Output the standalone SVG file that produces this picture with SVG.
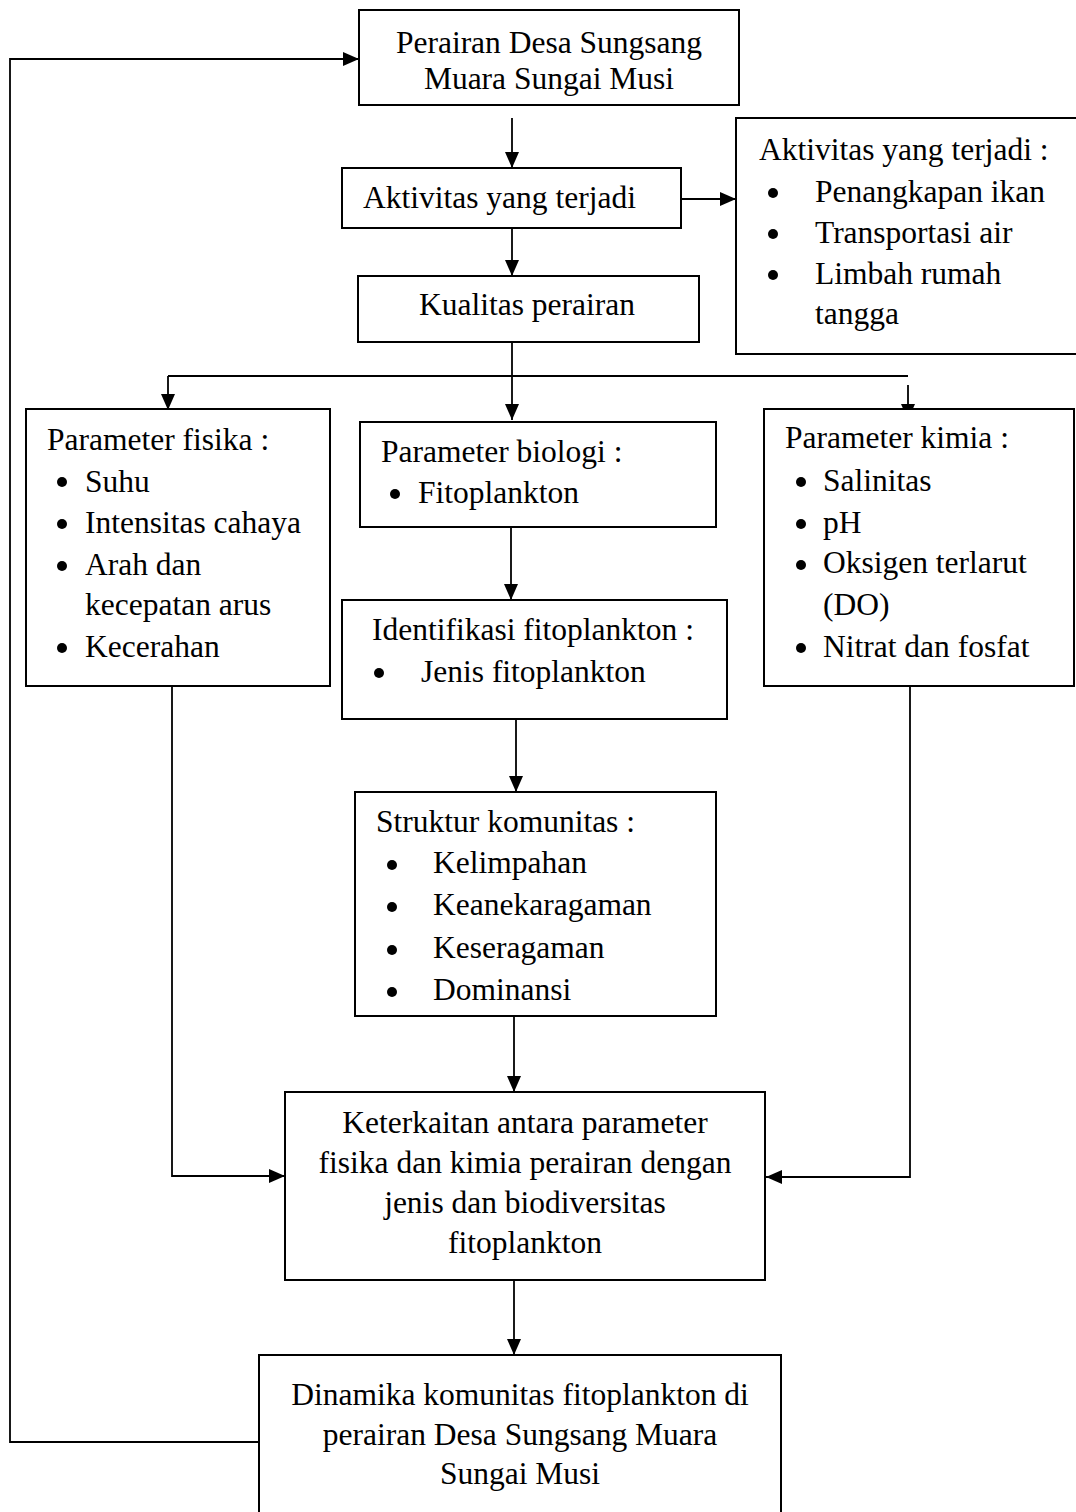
<svg xmlns="http://www.w3.org/2000/svg" width="1076" height="1512" viewBox="0 0 1076 1512">
<style>
.box{fill:#fff;stroke:#000;stroke-width:2}
.t{font-family:"Liberation Serif","Times New Roman",serif;font-size:31.5px;fill:#000}
.c{text-anchor:middle}
.ln{fill:none;stroke:#000;stroke-width:1.8}
.b{fill:#000}
</style>
<defs>
<marker id="ah" viewBox="0 0 16 14" refX="16" refY="7" markerWidth="16" markerHeight="14" markerUnits="userSpaceOnUse" orient="auto">
<path d="M0,0 L16,7 L0,14 z" fill="#000"/>
</marker>
</defs>
<rect width="1076" height="1512" fill="#fff"/>
<g id="connectors">
<path class="ln" d="M259,1442 H10 V59 H359" marker-end="url(#ah)"/>
<path class="ln" d="M512,118 V168" marker-end="url(#ah)"/>
<path class="ln" d="M681,199 H736" marker-end="url(#ah)"/>
<path class="ln" d="M512,228 V276" marker-end="url(#ah)"/>
<path class="ln" d="M512,342 V420" marker-end="url(#ah)"/>
<path class="ln" d="M168,376 H908"/>
<path class="ln" d="M168,376 V410" marker-end="url(#ah)"/>
<path class="ln" d="M908,385 V420" marker-end="url(#ah)"/>
<path class="ln" d="M511,527 V600" marker-end="url(#ah)"/>
<path class="ln" d="M516,719 V792" marker-end="url(#ah)"/>
<path class="ln" d="M514,1016 V1092" marker-end="url(#ah)"/>
<path class="ln" d="M172,679 V1176 H285" marker-end="url(#ah)"/>
<path class="ln" d="M910,677 V1177 H766" marker-end="url(#ah)"/>
<path class="ln" d="M514,1280 V1355" marker-end="url(#ah)"/>
</g>
<g id="n1">
<rect class="box" x="359" y="10" width="380" height="95"/>
<text class="t c" x="549" y="53">Perairan Desa Sungsang</text>
<text class="t c" x="549" y="89">Muara Sungai Musi</text>
</g>
<g id="n2">
<rect class="box" x="342" y="168" width="339" height="60"/>
<text class="t" x="363" y="208">Aktivitas yang terjadi</text>
</g>
<g id="n3">
<rect class="box" x="736" y="118" width="350" height="236"/>
<text class="t" x="759" y="160">Aktivitas yang terjadi :</text>
<circle class="b" cx="773" cy="193" r="5"/>
<text class="t" x="815" y="202">Penangkapan ikan</text>
<circle class="b" cx="773" cy="234" r="5"/>
<text class="t" x="815" y="243">Transportasi air</text>
<circle class="b" cx="773" cy="275" r="5"/>
<text class="t" x="815" y="284">Limbah rumah</text>
<text class="t" x="815" y="324">tangga</text>
</g>
<g id="n4">
<rect class="box" x="358" y="276" width="341" height="66"/>
<text class="t" x="419" y="315">Kualitas perairan</text>
</g>
<g id="n5">
<rect class="box" x="26" y="409" width="304" height="277"/>
<text class="t" x="47" y="450">Parameter fisika :</text>
<circle class="b" cx="62" cy="482" r="5"/>
<text class="t" x="85" y="492">Suhu</text>
<circle class="b" cx="62" cy="524" r="5"/>
<text class="t" x="85" y="533">Intensitas cahaya</text>
<circle class="b" cx="62" cy="566" r="5"/>
<text class="t" x="85" y="575">Arah dan</text>
<text class="t" x="85" y="615">kecepatan arus</text>
<circle class="b" cx="62" cy="648" r="5"/>
<text class="t" x="85" y="657">Kecerahan</text>
</g>
<g id="n6">
<rect class="box" x="360" y="422" width="356" height="105"/>
<text class="t" x="381" y="462">Parameter biologi :</text>
<circle class="b" cx="395" cy="494" r="5"/>
<text class="t" x="418" y="503">Fitoplankton</text>
</g>
<g id="n7">
<rect class="box" x="764" y="409" width="310" height="277"/>
<text class="t" x="785" y="448">Parameter kimia :</text>
<circle class="b" cx="801" cy="482" r="5"/>
<text class="t" x="823" y="491">Salinitas</text>
<circle class="b" cx="801" cy="524" r="5"/>
<text class="t" x="823" y="533">pH</text>
<circle class="b" cx="801" cy="565" r="5"/>
<text class="t" x="823" y="573">Oksigen terlarut</text>
<text class="t" x="823" y="615">(DO)</text>
<circle class="b" cx="801" cy="648" r="5"/>
<text class="t" x="823" y="657">Nitrat dan fosfat</text>
</g>
<g id="n8">
<rect class="box" x="342" y="600" width="385" height="119"/>
<text class="t" x="372" y="640">Identifikasi fitoplankton :</text>
<circle class="b" cx="379" cy="673" r="5"/>
<text class="t" x="421" y="682">Jenis fitoplankton</text>
</g>
<g id="n9">
<rect class="box" x="355" y="792" width="361" height="224"/>
<text class="t" x="376" y="832">Struktur komunitas :</text>
<circle class="b" cx="392" cy="865" r="5"/>
<text class="t" x="433" y="873">Kelimpahan</text>
<circle class="b" cx="392" cy="907" r="5"/>
<text class="t" x="433" y="915">Keanekaragaman</text>
<circle class="b" cx="392" cy="950" r="5"/>
<text class="t" x="433" y="958">Keseragaman</text>
<circle class="b" cx="392" cy="992" r="5"/>
<text class="t" x="433" y="1000">Dominansi</text>
</g>
<g id="n10">
<rect class="box" x="285" y="1092" width="480" height="188"/>
<text class="t c" x="525" y="1133">Keterkaitan antara parameter</text>
<text class="t c" x="525" y="1173">fisika dan kimia perairan dengan</text>
<text class="t c" x="525" y="1213">jenis dan biodiversitas</text>
<text class="t c" x="525" y="1253">fitoplankton</text>
</g>
<g id="n11">
<rect class="box" x="259" y="1355" width="522" height="170"/>
<text class="t c" x="520" y="1405">Dinamika komunitas fitoplankton di</text>
<text class="t c" x="520" y="1445">perairan Desa Sungsang Muara</text>
<text class="t c" x="520" y="1484">Sungai Musi</text>
</g>
</svg>
